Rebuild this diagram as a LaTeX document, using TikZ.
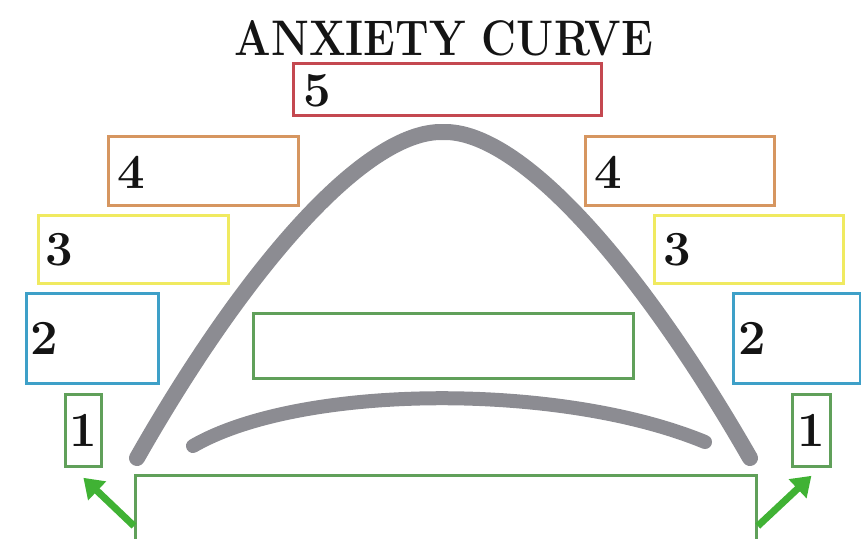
\documentclass[tikz,border=0pt]{standalone}
\usetikzlibrary{arrows.meta,calc}
\definecolor{cred}{RGB}{196,72,80}
\definecolor{corange}{RGB}{214,150,96}
\definecolor{cyellow}{RGB}{240,234,96}
\definecolor{cblue}{RGB}{62,160,200}
\definecolor{cgreen}{RGB}{96,160,90}
\definecolor{carrow}{RGB}{64,178,52}
\definecolor{cgrey}{RGB}{140,140,146}
\tikzset{
  box/.style={draw=#1, line width=2.8pt, rectangle, inner sep=0pt, anchor=north west},
  digit/.style={anchor=west, inner sep=0pt, font=\fontsize{49}{49}\selectfont\bfseries, text=black!92},
  curveline/.style={draw=cgrey, line width=16pt, line cap=round},
  greenarrow/.style={draw=carrow, line width=7pt, -{Triangle[length=19pt,width=25pt]}}
}
\begin{document}
\begin{tikzpicture}[x=1pt,y=-1pt]
\useasboundingbox (0,0) rectangle (861,538);
% title
\node[inner sep=0pt, font=\fontsize{50}{50}\selectfont\bfseries, text=black!92] (title) at (444,38) {\scalebox{0.86}[1]{ANXIETY CURVE}};
% curves
\draw[curveline] (137,458) .. controls (245,268) and (365,130) .. (443,132)
                 .. controls (521,130) and (641,268) .. (750,458);
\draw[curveline, line width=14pt] (193,446) .. controls (300,384) and (560,382) .. (705,442);
% boxes
\node[box=cred, minimum width=308pt, minimum height=52pt] (b5) at (292,62) {};
\node[box=corange, minimum width=190pt, minimum height=69pt] (b4l) at (107,135) {};
\node[box=corange, minimum width=189pt, minimum height=69pt] (b4r) at (584,135) {};
\node[box=cyellow, minimum width=190pt, minimum height=68pt] (b3l) at (37,214) {};
\node[box=cyellow, minimum width=189pt, minimum height=68pt] (b3r) at (653,214) {};
\node[box=cblue, minimum width=132pt, minimum height=90pt] (b2l) at (25,292) {};
\node[box=cblue, minimum width=127pt, minimum height=90pt] (b2r) at (732,292) {};
\node[box=cgreen, minimum width=36pt, minimum height=72pt] (b1l) at (64,393) {};
\node[box=cgreen, minimum width=38pt, minimum height=72pt] (b1r) at (791,393) {};
\node[box=cgreen, minimum width=380pt, minimum height=65pt] (mid) at (252,312) {};
\node[box=cgreen, minimum width=621pt, minimum height=70pt] (bot) at (134,474) {};
% digits
\node[digit] (d5) at (303,91) {5};
\node[digit] (d4l) at (117,172) {4};
\node[digit] (d4r) at (594,172) {4};
\node[digit] (d3l) at (45,250) {3};
\node[digit] (d3r) at (663,250) {3};
\node[digit] (d2l) at (30,338) {2};
\node[digit] (d2r) at (738,338) {2};
\node[digit, anchor=center] (d1l) at (b1l.center) {1};
\node[digit, anchor=center] (d1r) at (b1r.center) {1};
% arrows
\coordinate (al) at ($(bot.north west)+(0,52)$);
\coordinate (ar) at ($(bot.north east)+(0,52)$);
\coordinate (tl) at ($(b1l.south)+(0,10)$);
\coordinate (tr) at ($(b1r.south)+(0,8)$);
\draw[greenarrow] (al) -- (tl);
\draw[greenarrow] (ar) -- (tr);
\end{tikzpicture}
\end{document}
